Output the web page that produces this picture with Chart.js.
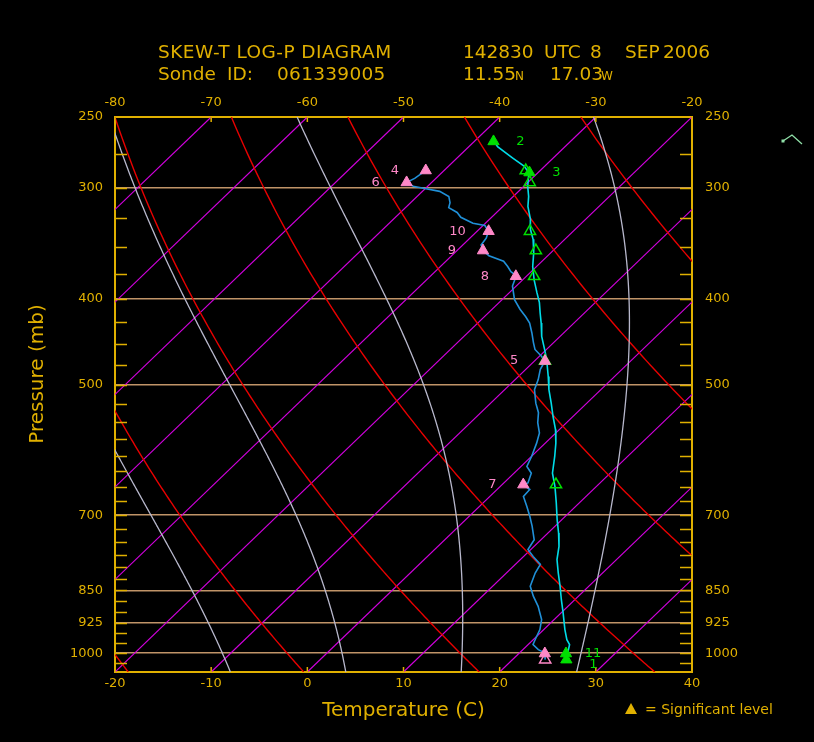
<!DOCTYPE html>
<html>
<head>
<meta charset="utf-8">
<script src="https://cdn.jsdelivr.net/npm/chart.js@4.4.1/dist/chart.umd.min.js"></script>
<style>
  html, body { margin: 0; padding: 0; background: #000; }
  canvas { display: block; }
</style>
</head>
<body>
<canvas id="c" width="814" height="742"></canvas>
<script>
// ---------------- data ----------------
// Temperature profile (hPa, deg C)
const tempPressure = [266, 270, 278, 284, 289, 299, 307, 315, 326, 334, 343, 355, 368, 381, 394, 404, 415, 426, 441, 456, 468, 489, 506, 524, 542, 561, 581, 601, 628, 650, 678, 708, 733, 759, 785, 813, 841, 871, 901, 941, 966, 978, 996, 1008, 1017];
const tempValues = [-38.0, -37.0, -34.2, -32.1, -30.9, -29.6, -28.4, -27.4, -25.7, -24.7, -23.3, -21.8, -20.4, -18.8, -17.1, -15.8, -14.6, -13.4, -11.9, -10.2, -8.9, -6.9, -5.4, -3.7, -2.1, -0.4, 1.1, 2.4, 4.0, 5.7, 7.6, 9.5, 11.1, 12.6, 13.8, 15.4, 17.0, 18.6, 20.2, 22.2, 23.5, 24.3, 24.9, 25.2, 25.6];

// Dew point profile (hPa, deg C)
const dewPressure = [287, 293, 296, 299, 301, 303, 307, 312, 316, 320, 324, 329, 331, 336, 342, 348, 353, 358, 363, 368, 373, 377, 387, 401, 411, 419, 426, 437, 448, 456, 464, 470, 480, 493, 506, 524, 537, 551, 566, 581, 601, 617, 628, 644, 647, 655, 667, 684, 702, 720, 746, 765, 779, 795, 813, 841, 863, 886, 917, 941, 966, 978, 991, 999, 1017];
const dewValues = [-41.9, -42.2, -42.6, -41.5, -39.9, -38.2, -36.7, -35.9, -35.5, -34.1, -33.2, -31.3, -29.8, -28.8, -28.3, -28.1, -27.3, -26.1, -24.0, -23.0, -22.1, -21.1, -20.4, -18.7, -17.1, -15.7, -14.6, -13.3, -12.1, -11.2, -9.8, -8.9, -8.5, -7.6, -6.9, -5.3, -4.0, -3.0, -1.7, -0.9, 0.0, 0.6, 1.8, 2.5, 2.2, 3.4, 3.5, 4.9, 6.3, 7.6, 9.3, 9.7, 11.0, 12.6, 13.0, 13.9, 15.3, 16.9, 18.7, 19.6, 20.2, 20.5, 21.6, 22.6, 23.4];

// Significant levels: temperature levels (filled green)
const sigTempLabels = ['2', '3', '11', '1'];
const sigTempPressure = [266.3, 288.6, 1001, 1017];
const sigTempValues = [-38.0, -30.9, 24.9, 25.6];
// dew point at those levels (hollow pink, where shown)
const sigTempDewPressure = [1017];
const sigTempDewValues = [23.4];

// Significant levels: dew point levels (filled pink)
const sigDewLabels = ['4', '6', '10', '9', '8', '5', '7', ''];
const sigDewPressure = [287.1, 296.1, 335.9, 353.1, 377.4, 469.9, 646.8, 1001];
const sigDewValues = [-41.9, -42.6, -28.8, -27.3, -21.1, -8.9, 2.2, 22.7];
// temperature at those levels (hollow green)
const sigDewTempPressure = [287.1, 296.1, 335.9, 353.1, 377.4, 469.9, 646.8];
const sigDewTempValues = [-31.5, -29.8, -24.5, -21.8, -19.2, -8.9, 5.6];

// Axis ticks
const pressureTicks = [250, 300, 400, 500, 700, 850, 925, 1000];
const bottomTempTicks = [-20, -10, 0, 10, 20, 30, 40];
const topTempTicks = [-80, -70, -60, -50, -40, -30, -20];

// Background reference lines (diagram furniture)
const isothermTemps = [-100, -90, -80, -70, -60, -50, -40, -30, -20, -10, 0, 10, 20, 30, 40];
const dryAdiabatThetaK = [197, 215, 233, 251, 269, 287, 305, 323, 341, 359, 377, 395];
const moistAdiabatStartC = [-20, -8, 4, 16, 28];

// ---------------- diagram geometry ----------------
const P_BOTTOM = 1050, P_TOP = 250, SKEW_DEG = 60;
function skewX(T, p) {
  return T + SKEW_DEG * Math.log(P_BOTTOM / p) / Math.log(P_BOTTOM / P_TOP);
}
function toPoints(ps, ts) { return ps.map((p, i) => ({ x: skewX(ts[i], p), y: p })); }

const GOLD = '#e0b000', TAN = '#c09468', MAGENTA = '#d000dc', RED = '#e80000',
      GRAYLINE = '#b8b8cc', CYAN = '#00dce8', BLUE = '#2090d8', GREEN = '#00e000', PINK = '#ff88c8';

Chart.defaults.font.family = "'DejaVu Sans', sans-serif";

function moistSlope(p, T) { // dT/dp, T in K, p in hPa
  const Tc = T - 273.15;
  const es = 6.112 * Math.exp(17.67 * Tc / (Tc + 243.5));
  const rs = 0.622 * es / (p - es);
  const Rd = 287.04, Lv = 2.501e6, cp = 1005.7, eps = 0.622;
  return (Rd * T + Lv * rs) / (cp + (Lv * Lv * rs * eps) / (Rd * T * T)) / p;
}

const skewtBackground = {
  id: 'skewtBackground',
  beforeDatasetsDraw(chart) {
    const { ctx, chartArea: a, scales: { x, y } } = chart;
    const px = (T, p) => x.getPixelForValue(skewX(T, p));
    const py = p => y.getPixelForValue(p);
    ctx.save();
    ctx.beginPath();
    ctx.rect(a.left, a.top, a.right - a.left, a.bottom - a.top);
    ctx.clip();
    // isotherms
    ctx.strokeStyle = MAGENTA; ctx.lineWidth = 1.2;
    isothermTemps.forEach(T => {
      ctx.beginPath();
      ctx.moveTo(px(T, P_BOTTOM), py(P_BOTTOM));
      ctx.lineTo(px(T, P_TOP), py(P_TOP));
      ctx.stroke();
    });
    // dry adiabats
    ctx.strokeStyle = RED; ctx.lineWidth = 1.4;
    dryAdiabatThetaK.forEach(th => {
      ctx.beginPath();
      for (let p = P_BOTTOM; p >= P_TOP - 0.01; p -= 5) {
        const T = th * Math.pow(p / 1000, 0.2857) - 273.15;
        if (p === P_BOTTOM) ctx.moveTo(px(T, p), py(p)); else ctx.lineTo(px(T, p), py(p));
      }
      ctx.stroke();
    });
    // moist adiabats
    ctx.strokeStyle = GRAYLINE; ctx.lineWidth = 1.3;
    moistAdiabatStartC.forEach(t0 => {
      let T = t0 + 273.15, p = P_BOTTOM;
      const h = -2;
      ctx.beginPath();
      ctx.moveTo(px(T - 273.15, p), py(p));
      while (p > P_TOP) {
        const k1 = moistSlope(p, T);
        const k2 = moistSlope(p + h / 2, T + h / 2 * k1);
        const k3 = moistSlope(p + h / 2, T + h / 2 * k2);
        const k4 = moistSlope(p + h, T + h * k3);
        T += h / 6 * (k1 + 2 * k2 + 2 * k3 + k4);
        p += h;
        ctx.lineTo(px(T - 273.15, p), py(p));
      }
      ctx.stroke();
    });
    ctx.restore();
  },
  afterDatasetsDraw(chart) {
    const { ctx, chartArea: a, scales: { x, y } } = chart;
    ctx.save();
    ctx.strokeStyle = GOLD; ctx.lineWidth = 1.5;
    // inner pressure tick marks every 25 hPa
    for (let p = P_TOP + 25; p < P_BOTTOM; p += 25) {
      const yy = Math.round(y.getPixelForValue(p)) + 0.5;
      ctx.beginPath();
      ctx.moveTo(a.left, yy); ctx.lineTo(a.left + 12, yy);
      ctx.moveTo(a.right, yy); ctx.lineTo(a.right - 12, yy);
      ctx.stroke();
    }
    // temperature tick marks
    bottomTempTicks.forEach(v => {
      const xx = x.getPixelForValue(v);
      ctx.beginPath(); ctx.moveTo(xx, a.bottom); ctx.lineTo(xx, a.bottom - 5); ctx.stroke();
      ctx.beginPath(); ctx.moveTo(xx, a.top); ctx.lineTo(xx, a.top + 5); ctx.stroke();
    });
    // labels of significant levels
    ctx.font = "13px 'DejaVu Sans'";
    ctx.textAlign = 'center'; ctx.textBaseline = 'middle';
    const labelSet = [[2, sigDewLabels, PINK, -31], [4, sigTempLabels, GREEN, 27]];
    labelSet.forEach(([di, labels, col, dx]) => {
      const meta = chart.getDatasetMeta(di);
      ctx.fillStyle = col;
      meta.data.forEach((el, i) => {
        if (labels[i]) ctx.fillText(labels[i], el.x + dx, el.y + (labels[i] === '1' ? 5 : 0));
      });
    });
    ctx.restore();
  },
  afterDraw(chart) {
    const { ctx, chartArea: a } = chart;
    ctx.save();
    ctx.fillStyle = GOLD;
    ctx.textBaseline = 'alphabetic'; ctx.textAlign = 'left';
    const big = "18.5px 'DejaVu Sans'", small = "12px 'DejaVu Sans'";
    const header = [
      ['SKEW-T LOG-P DIAGRAM', 158, 58, big, 0.45], ['142830', 463, 58, big, 0], ['UTC', 544, 58, big, 0],
      ['8', 590, 58, big, 0], ['SEP', 625, 58, big, 0], ['2006', 663, 58, big, 0],
      ['Sonde', 158, 80, big, 0], ['ID:', 227, 80, big, 0], ['061339005', 277, 80, big, 0.3],
      ['11.55', 463, 80, big, 0], ['N', 515, 80, small, 0], ['17.03', 550, 80, big, 0], ['W', 601, 80, small, 0]
    ];
    header.forEach(([t, hx, hy, f, ls]) => {
      ctx.font = f;
      ctx.letterSpacing = ls + 'px';
      ctx.fillText(t, hx, hy);
    });
    ctx.letterSpacing = '0px';
    // y axis title
    ctx.save();
    ctx.translate(38, 374);
    ctx.rotate(-Math.PI / 2);
    ctx.textAlign = 'center'; ctx.textBaseline = 'middle';
    ctx.font = "20px 'DejaVu Sans'";
    ctx.fillText('Pressure (mb)', 0, 0);
    ctx.restore();
    // legend
    const lx = a.right - 61, ly = a.bottom + 37;
    ctx.beginPath();
    ctx.moveTo(lx, ly - 6); ctx.lineTo(lx + 6, ly + 5); ctx.lineTo(lx - 6, ly + 5); ctx.closePath();
    ctx.fill();
    ctx.font = "14px 'DejaVu Sans'";
    ctx.fillText('= Significant level', lx + 14, ly + 5);
    // wind barb
    ctx.strokeStyle = '#90e0a8'; ctx.fillStyle = '#90e0a8'; ctx.lineWidth = 1.3;
    ctx.beginPath();
    ctx.moveTo(a.right + 91, a.top + 24);
    ctx.lineTo(a.right + 100, a.top + 18);
    ctx.lineTo(a.right + 110, a.top + 27);
    ctx.stroke();
    ctx.fillRect(a.right + 89.5, a.top + 22.5, 3, 3);
    ctx.restore();
  }
};

const blackBg = {
  id: 'blackBg',
  beforeDraw(chart) {
    const { ctx, width, height } = chart;
    ctx.save(); ctx.fillStyle = '#000'; ctx.fillRect(0, 0, width, height); ctx.restore();
  }
};

const tickFont = { family: "'DejaVu Sans'", size: 13 };

new Chart(document.getElementById('c'), {
  type: 'scatter',
  data: {
    datasets: [
      { label: 'Temperature', data: toPoints(tempPressure, tempValues), showLine: true,
        borderColor: CYAN, borderWidth: 1.6, pointRadius: 0, order: 5 },
      { label: 'Dew point', data: toPoints(dewPressure, dewValues), showLine: true,
        borderColor: BLUE, borderWidth: 1.6, pointRadius: 0, order: 4 },
      { label: 'Dew point significant', data: toPoints(sigDewPressure, sigDewValues),
        pointStyle: 'triangle', pointRadius: 6.5, backgroundColor: PINK, borderColor: PINK, borderWidth: 1, order: 0 },
      { label: 'Temperature at dew levels', data: toPoints(sigDewTempPressure, sigDewTempValues),
        pointStyle: 'triangle', pointRadius: 6.5, backgroundColor: 'rgba(0,0,0,0)', borderColor: GREEN, borderWidth: 1.5, order: 3 },
      { label: 'Temperature significant', data: toPoints(sigTempPressure, sigTempValues),
        pointStyle: 'triangle', pointRadius: 6.5, backgroundColor: GREEN, borderColor: GREEN, borderWidth: 1, order: 1 },
      { label: 'Dew point at temp levels', data: toPoints(sigTempDewPressure, sigTempDewValues),
        pointStyle: 'triangle', pointRadius: 6.5, backgroundColor: 'rgba(0,0,0,0)', borderColor: PINK, borderWidth: 1.5, order: 2 }
    ]
  },
  options: {
    responsive: false, animation: false, devicePixelRatio: 1,
    layout: { padding: 0 },
    events: [],
    plugins: { legend: { display: false }, tooltip: { enabled: false }, title: { display: false } },
    scales: {
      x: {
        type: 'linear', position: 'bottom', min: -20, max: 40,
        afterBuildTicks: s => { s.ticks = bottomTempTicks.map(v => ({ value: v })); },
        afterFit: s => { s.height = 70; },
        grid: { display: false, drawTicks: false },
        border: { display: true, color: GOLD, width: 2 },
        ticks: { color: GOLD, font: tickFont, padding: 4, maxRotation: 0, autoSkip: false, callback: v => String(v) },
        title: { display: true, text: 'Temperature (C)', color: GOLD, font: { family: "'DejaVu Sans'", size: 20 }, padding: { top: 4, bottom: 19 } }
      },
      xTop: {
        type: 'linear', position: 'top', min: -80, max: -20,
        afterBuildTicks: s => { s.ticks = topTempTicks.map(v => ({ value: v })); },
        afterFit: s => { s.height = 117; },
        grid: { display: false, drawTicks: false },
        border: { display: true, color: GOLD, width: 2 },
        ticks: { color: GOLD, font: tickFont, padding: 7, maxRotation: 0, autoSkip: false, callback: v => String(v) }
      },
      y: {
        type: 'logarithmic', position: 'left', min: P_TOP, max: P_BOTTOM, reverse: true,
        afterBuildTicks: s => { s.ticks = pressureTicks.map(v => ({ value: v })); },
        afterFit: s => { s.width = 115; },
        grid: { display: true, drawTicks: false, lineWidth: 1.5,
                color: c => (c.tick && c.tick.value === P_TOP) ? 'rgba(0,0,0,0)' : TAN },
        border: { display: true, color: GOLD, width: 2 },
        ticks: { color: GOLD, font: tickFont, padding: 12, autoSkip: false, callback: v => String(v) }
      },
      yRight: {
        type: 'logarithmic', position: 'right', min: P_TOP, max: P_BOTTOM, reverse: true,
        afterBuildTicks: s => { s.ticks = pressureTicks.map(v => ({ value: v })); },
        afterFit: s => { s.width = 122; },
        grid: { display: false, drawTicks: false },
        border: { display: true, color: GOLD, width: 2 },
        ticks: { color: GOLD, font: tickFont, padding: 13, autoSkip: false, callback: v => String(v) }
      }
    }
  },
  plugins: [blackBg, skewtBackground]
});
</script>
</body>
</html>
